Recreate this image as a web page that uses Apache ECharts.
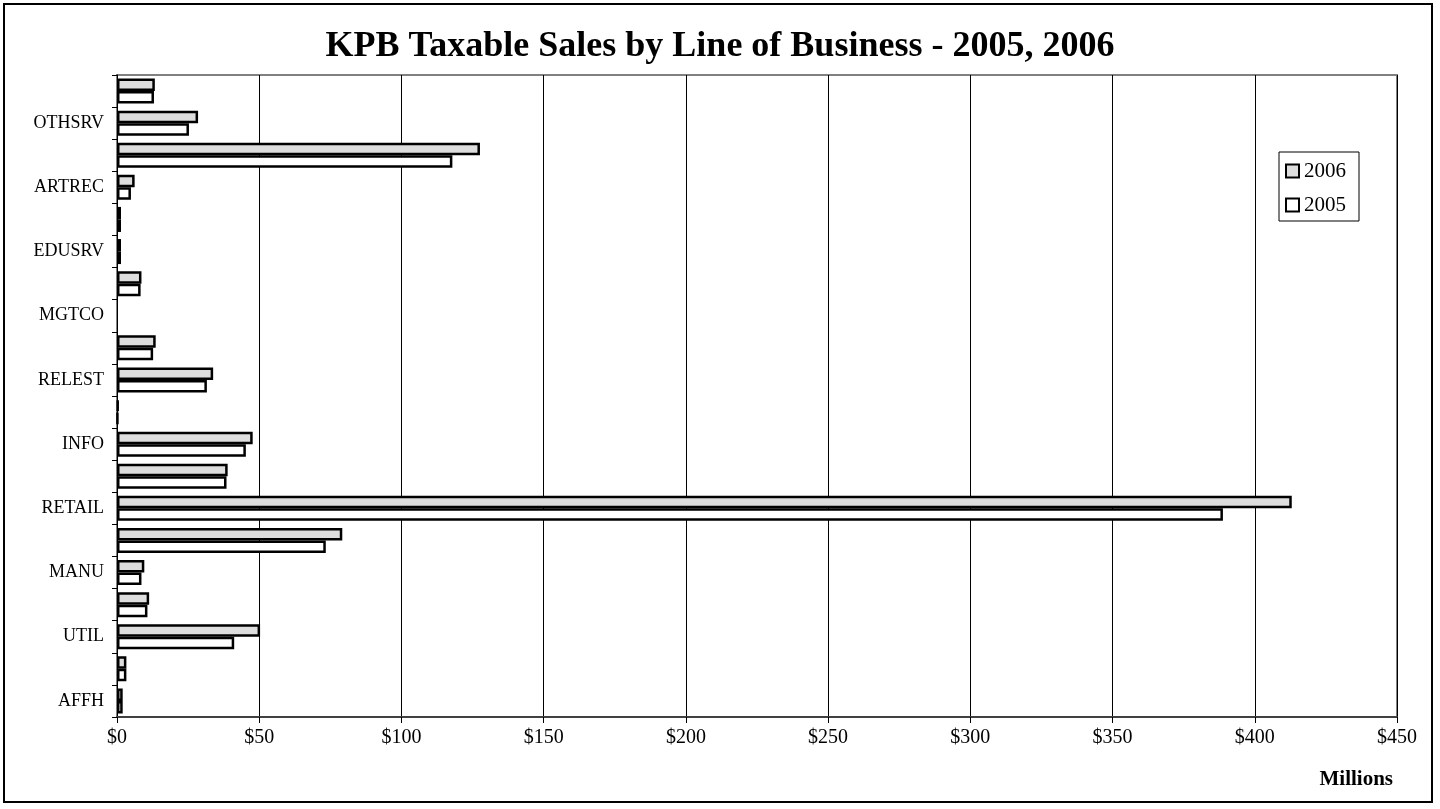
<!DOCTYPE html>
<html>
<head>
<meta charset="utf-8">
<script src="https://cdn.jsdelivr.net/npm/echarts@6/dist/echarts.min.js"></script>
<style>
html,body{margin:0;padding:0;background:#fff;}
#chart{width:1440px;height:809px;}
</style>
</head>
<body>
<div id="chart"></div>
<script>
const categories = ['AFFH','MINING','UTIL','CONST','MANU','WHOLE','RETAIL','TRANS','INFO','FININS','RELEST','PROSRV','MGTCO','ADMWST','EDUSRV','HEALTH','ARTREC','ACCFD','OTHSRV','NONCLS'];
const sales2006 = [2.0,3.3,50.3,11.3,9.6,79.2,413.0,38.9,47.7,0.5,33.8,13.6,0,8.6,1.4,1.4,6.2,127.6,28.5,13.3];
const sales2005 = [2.0,3.3,41.2,10.7,8.6,73.4,388.8,38.5,45.3,0.3,31.6,12.7,0,8.3,1.4,1.4,4.9,117.9,25.3,13.0];
const xTicks = [0,50,100,150,200,250,300,350,400,450];
const seriesNames = ['2006','2005'];
const titleText = 'KPB Taxable Sales by Line of Business - 2005, 2006';
const unitText = 'Millions';

const FONT = '"Liberation Serif","Times New Roman",serif';
const toData = arr => arr.map(v => v === 0 ? '-' : v);

const chart = echarts.init(document.getElementById('chart'), null, {renderer:'canvas'});
chart.setOption({
  animation:false,
  backgroundColor:'#fff',
  title:{
    text:titleText,
    left:'center',
    top:24,
    textStyle:{fontFamily:FONT,fontSize:36,fontWeight:'bold',color:'#000'}
  },
  legend:{
    data:seriesNames,
    orient:'vertical',
    left:1279,
    top:152,
    padding:[8,13,5,6],
    itemWidth:13,
    itemHeight:13,
    itemGap:12,
    icon:'rect',
    backgroundColor:'#fff',
    borderColor:'#000',
    borderWidth:1,
    textStyle:{fontFamily:FONT,fontSize:21,color:'#000',lineHeight:22}
  },
  grid:{
    left:117, right:43, top:75, bottom:92,
    show:true, borderColor:'#808080', borderWidth:2, backgroundColor:'#fff'
  },
  xAxis:{
    type:'value',
    min:xTicks[0], max:xTicks[xTicks.length-1], interval:xTicks[1]-xTicks[0],
    axisLine:{show:true,lineStyle:{color:'#404040',width:2}},
    axisTick:{show:true,length:6,lineStyle:{color:'#000',width:1}},
    axisLabel:{formatter:v=>'$'+v,fontFamily:FONT,fontSize:20,color:'#000',margin:11},
    splitLine:{show:true,lineStyle:{color:'#000',width:1}}
  },
  yAxis:{
    type:'category',
    data:categories,
    axisLine:{show:true,lineStyle:{color:'#000',width:1}},
    axisTick:{show:true,interval:0,length:5,lineStyle:{color:'#000',width:1}},
    axisLabel:{interval:1,fontFamily:FONT,fontSize:18,color:'#000',margin:13},
    splitLine:{show:false}
  },
  series:[
    {
      name:seriesNames[0], type:'bar', data:toData(sales2006),
      barGap:'0%', barCategoryGap:'22%',
      itemStyle:{color:'#dddddd',borderColor:'#000',borderWidth:2.5}
    },
    {
      name:seriesNames[1], type:'bar', data:toData(sales2005),
      barGap:'0%', barCategoryGap:'22%',
      itemStyle:{color:'#ffffff',borderColor:'#000',borderWidth:2.5}
    }
  ],
  graphic:[
    {type:'rect', silent:true, z:-1, shape:{x:4,y:4,width:1428,height:798},
     style:{fill:'none',stroke:'#000',lineWidth:2}},
    {type:'text', right:47, top:769,
     style:{text:unitText,fontFamily:FONT,fontSize:21,fontWeight:'bold',fill:'#000'}}
  ]
});
</script>
</body>
</html>
